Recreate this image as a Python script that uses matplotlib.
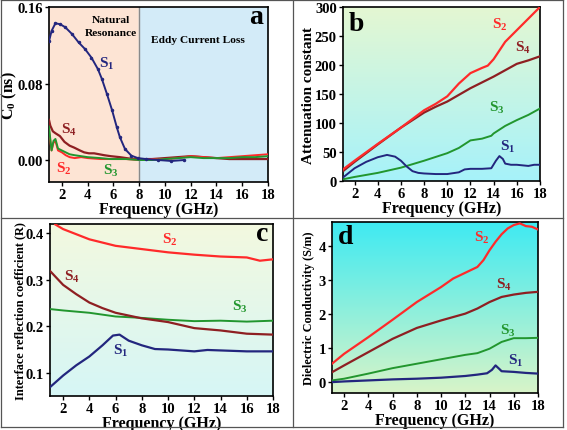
import numpy as np
import matplotlib
matplotlib.use('Agg')
import matplotlib.pyplot as plt
from matplotlib.lines import Line2D
from matplotlib.colors import LinearSegmentedColormap

plt.rcParams['font.family'] = ['Liberation Serif', 'DejaVu Serif']
plt.rcParams['font.weight'] = 'bold'
plt.rcParams['axes.labelweight'] = 'bold'
plt.rcParams['mathtext.fontset'] = 'custom'
plt.rcParams['mathtext.rm'] = 'Liberation Serif:bold'
plt.rcParams['mathtext.it'] = 'Liberation Serif:bold'
plt.rcParams['mathtext.bf'] = 'Liberation Serif:bold'

C1 = '#23267e'
C2 = '#ff2a2a'
C3 = '#22962e'
C4 = '#8e1f22'

# ---- panel a : C0 (ns)
a_f_s1 = [1.0, 1.2, 1.5, 1.86, 2.25, 2.77, 3.3, 3.8, 4.3, 4.8, 5.1, 5.5, 5.9, 6.27,
          6.5, 6.9, 7.4, 7.9, 8.5, 9.5, 10.5, 11.5]
a_s1 = [0.124, 0.135, 0.143, 0.142, 0.139, 0.132, 0.123, 0.116, 0.107, 0.095, 0.085,
        0.069, 0.052, 0.034, 0.024, 0.0115, 0.0045, 0.002, 0.001, 0.0, -0.001, 0.0]
a_f_s2 = [1.0, 1.1, 1.2, 1.35, 1.5, 1.7, 2.0, 2.3, 2.6, 3.0, 3.5, 4, 5, 6, 7, 8, 9, 10,
          11, 12, 13, 14, 15, 16, 17, 18]
a_s2 = [0.030, 0.020, 0.010, 0.018, 0.020, 0.010, 0.008, 0.005, 0.003, 0.002, 0.003,
        0.002, 0.001, 0.001, 0.001, 0.0, 0.001, 0.001, 0.002, 0.004, 0.003, 0.002,
        0.003, 0.004, 0.005, 0.006]
a_f_s3 = [1.0, 1.1, 1.2, 1.35, 1.5, 1.7, 2.0, 2.3, 2.6, 3.0, 3.5, 4, 5, 5.8, 7, 8, 9,
          10, 11, 12, 13, 14, 15, 16, 17, 18]
a_s3 = [0.035, 0.022, 0.010, 0.020, 0.022, 0.012, 0.010, 0.008, 0.006, 0.005, 0.004,
        0.003, 0.002, 0.001, 0.001, 0.0, 0.0, 0.001, 0.002, 0.003, 0.002, 0.002,
        0.002, 0.003, 0.003, 0.004]
a_f_s4 = [1.0, 1.1, 1.3, 1.5, 1.85, 2.2, 2.6, 2.95, 3.4, 3.73, 4.1, 4.5, 4.9, 5.3, 5.8,
          6.5, 7.0, 7.6, 8, 9, 10, 11, 12, 13, 14, 15, 16, 17, 18]
a_s4 = [0.042, 0.036, 0.030, 0.028, 0.025, 0.019, 0.015, 0.013, 0.010, 0.008, 0.007,
        0.007, 0.006, 0.005, 0.004, 0.003, 0.002, 0.001, 0.001, 0.001, 0.002, 0.003,
        0.004, 0.003, 0.002, 0.001, 0.001, 0.001, 0.001]

# ---- panel b : attenuation constant
b_f_s1 = [1.0, 1.5, 2, 3, 4, 4.8, 5.5, 6, 6.5, 7, 7.5, 8, 9, 10, 11, 11.5, 12, 13, 13.8,
          14.2, 14.5, 14.8, 15, 15.5, 16, 16.5, 17, 17.5, 18]
b_s1 = [6, 14, 22, 33, 41, 45, 42, 35, 25, 17, 14, 13, 12, 12, 15, 20, 21, 21, 22, 35,
        43, 38, 30, 28, 28, 27, 26, 28, 28]
b_f_s2 = [1.0, 2, 4, 6, 8, 9, 10, 11, 12, 13, 13.5, 14, 15, 16, 17, 18]
b_s2 = [20, 35, 64, 92, 122, 133, 146, 168, 186, 195, 199, 210, 240, 260, 280, 300]
b_f_s3 = [1.0, 2, 4, 6, 8, 10, 11, 12, 13, 13.8, 14, 15, 16, 17, 18]
b_s3 = [3, 7, 14, 23, 35, 48, 57, 70, 73, 78, 82, 95, 105, 114, 125]
b_f_s4 = [1.0, 2, 4, 6, 8, 9, 10, 12, 13, 14, 16, 17, 18]
b_s4 = [17, 33, 63, 92, 118, 128, 137, 160, 170, 180, 202, 208, 215]

# ---- panel c : interface reflection coefficient
c_f_s1 = [1.0, 2, 3, 4, 5, 5.8, 6.3, 7, 8, 9, 10, 12, 13, 14, 16, 18]
c_s1 = [0.069, 0.094, 0.116, 0.135, 0.159, 0.180, 0.182, 0.169, 0.159, 0.151, 0.150,
        0.146, 0.149, 0.148, 0.146, 0.146]
c_f_s2 = [1.4, 2, 4, 6, 8, 10, 12, 14, 16, 17, 18]
c_s2 = [0.419, 0.409, 0.387, 0.373, 0.366, 0.359, 0.354, 0.350, 0.348, 0.341, 0.344]
c_f_s3 = [1.0, 2, 4, 6, 8, 10, 12, 14, 16, 18]
c_s3 = [0.237, 0.234, 0.229, 0.221, 0.218, 0.214, 0.211, 0.212, 0.210, 0.212]
c_f_s4 = [1.0, 2, 3, 4, 5, 6, 8, 10, 12, 14, 16, 18]
c_s4 = [0.319, 0.289, 0.269, 0.251, 0.239, 0.229, 0.217, 0.209, 0.196, 0.191, 0.184, 0.182]

# ---- panel d : dielectric conductivity
d_f_s1 = [1.0, 2, 4, 6, 8, 10, 12, 13, 13.8, 14.2, 14.5, 14.8, 15, 16, 17, 18]
d_s1 = [0.0, 0.02, 0.05, 0.08, 0.10, 0.13, 0.18, 0.22, 0.26, 0.36, 0.49, 0.39, 0.32,
        0.30, 0.27, 0.25]
d_f_s2 = [1.0, 2, 4, 6, 8, 10, 11, 12, 13, 13.5, 14, 14.5, 15, 15.5, 16, 16.5, 17, 17.5, 18]
d_s2 = [0.54, 0.83, 1.32, 1.83, 2.35, 2.79, 3.04, 3.21, 3.38, 3.58, 3.87, 4.12, 4.34,
        4.51, 4.61, 4.66, 4.58, 4.56, 4.48]
d_f_s3 = [1.0, 2, 4, 6, 8, 10, 12, 13, 14, 15, 16, 17, 18]
d_s3 = [0.05, 0.10, 0.25, 0.41, 0.54, 0.67, 0.80, 0.85, 0.98, 1.18, 1.29, 1.29, 1.30]
d_f_s4 = [1.0, 2, 4, 6, 8, 10, 12, 13, 14, 15, 16, 17, 18]
d_s4 = [0.29, 0.49, 0.88, 1.27, 1.59, 1.81, 2.01, 2.16, 2.35, 2.50, 2.57, 2.62, 2.65]

x_ticks = [2, 4, 6, 8, 10, 12, 14, 16, 18]


def gradient_bg(ax, top, bottom):
    cmap = LinearSegmentedColormap.from_list('bg', [bottom, top])
    grad = np.linspace(0, 1, 256).reshape(-1, 1)
    ax.imshow(grad, cmap=cmap, aspect='auto', origin='lower', extent=[0, 1, 0, 1],
              transform=ax.transAxes, zorder=0)


def style(ax, ylabel, ylsize, ylx):
    ax.set_xlim(1, 18)
    ax.set_xticks(x_ticks)
    ax.set_xlabel('Frequency (GHz)', fontsize=11.5, fontweight='bold', labelpad=0)
    ax.set_ylabel(ylabel, fontsize=ylsize, fontweight='bold')
    ax.yaxis.set_label_coords(ylx, 0.5)
    ax.tick_params(direction='out', length=3, width=1, labelsize=10.5, pad=1.5)
    for lab in ax.get_xticklabels() + ax.get_yticklabels():
        lab.set_fontweight('bold')
    for sp in ax.spines.values():
        sp.set_linewidth(1.2)


def lab(ax, x, y, n, color):
    ax.text(x, y, 'S$_{%d}$' % n, color=color, fontsize=11, fontweight='bold',
            ha='center', va='center', zorder=5)


fig = plt.figure(figsize=(5.67, 4.31), dpi=100)

# panel a
ax = fig.add_axes([0.0864, 0.5754, 0.3862, 0.4060])
ax.axvspan(1, 8, color='#fde4d4', zorder=0)
ax.axvspan(8, 18, color='#d3ebf8', zorder=0)
ax.axvline(8, color='#8a8a8a', lw=1, zorder=1)
ax.plot(a_f_s4, a_s4, color=C4, lw=1.6, zorder=3)
ax.plot(a_f_s2, a_s2, color=C2, lw=1.4, zorder=3)
ax.plot(a_f_s3, a_s3, color=C3, lw=1.4, zorder=3)
ax.plot(a_f_s1, a_s1, color=C1, lw=1.4, marker='.', ms=3, zorder=4)
ax.set_ylim(-0.023, 0.16)
ax.set_yticks([0.00, 0.08, 0.16])
ax.set_yticklabels(['0.00', '0.08', '0.16'])
style(ax, 'C$_0$ (ns)', 11.5, -0.135)
ax.text(5.8, 0.140, 'Natural\nResonance', ha='center', va='center', fontsize=8.2,
        fontweight='bold', linespacing=1.5)
ax.text(12.6, 0.1265, 'Eddy Current Loss', ha='center', va='center', fontsize=8.2,
        fontweight='bold')
ax.text(17.1, 0.150, 'a', ha='center', va='center', fontsize=20, fontweight='bold')
lab(ax, 5.5, 0.102, 1, C1)
lab(ax, 2.15, -0.008, 2, C2)
lab(ax, 5.8, -0.010, 3, C3)
lab(ax, 2.55, 0.032, 4, C4)

# panel b
ax = fig.add_axes([0.6049, 0.5777, 0.3474, 0.4037])
gradient_bg(ax, '#e4f7d2', '#a6f2fa')
ax.plot(b_f_s3, b_s3, color=C3, lw=1.4, zorder=3)
ax.plot(b_f_s1, b_s1, color=C1, lw=1.4, zorder=3)
ax.plot(b_f_s4, b_s4, color=C4, lw=1.6, zorder=3)
ax.plot(b_f_s2, b_s2, color=C2, lw=1.6, zorder=3)
ax.set_ylim(0, 300)
ax.set_yticks([0, 50, 100, 150, 200, 250, 300])
style(ax, 'Attenuation constant', 11, -0.14)
ax.text(2.15, 271, 'b', ha='center', va='center', fontsize=20, fontweight='bold')
lab(ax, 15.25, 61, 1, C1)
lab(ax, 14.5, 271, 2, C2)
lab(ax, 14.25, 127, 3, C3)
lab(ax, 16.5, 231, 4, C4)

# panel c
ax = fig.add_axes([0.0882, 0.0789, 0.3933, 0.3991])
gradient_bg(ax, '#f3f9df', '#d6f6f6')
ax.plot(c_f_s2, c_s2, color=C2, lw=1.6, zorder=3)
ax.plot(c_f_s3, c_s3, color=C3, lw=1.4, zorder=3)
ax.plot(c_f_s4, c_s4, color=C4, lw=1.6, zorder=3)
ax.plot(c_f_s1, c_s1, color=C1, lw=1.6, zorder=3)
ax.set_ylim(0.05, 0.42)
ax.set_yticks([0.1, 0.2, 0.3, 0.4])
style(ax, 'Interface reflection coefficient (R)', 8.8, -0.105)
ax.text(17.2, 0.400, 'c', ha='center', va='center', fontsize=20, fontweight='bold')
lab(ax, 6.4, 0.148, 1, C1)
lab(ax, 10.1, 0.387, 2, C2)
lab(ax, 15.5, 0.244, 3, C3)
lab(ax, 2.7, 0.309, 4, C4)

# panel d
ax = fig.add_axes([0.5855, 0.0858, 0.3633, 0.3968])
gradient_bg(ax, '#3eeaf2', '#d8f4c8')
ax.plot(d_f_s2, d_s2, color=C2, lw=1.6, zorder=3)
ax.plot(d_f_s4, d_s4, color=C4, lw=1.6, zorder=3)
ax.plot(d_f_s3, d_s3, color=C3, lw=1.4, zorder=3)
ax.plot(d_f_s1, d_s1, color=C1, lw=1.6, zorder=3)
ax.set_ylim(-0.32, 4.7)
ax.set_yticks([0, 1, 2, 3, 4])
style(ax, 'Dielectric Conductivity (S/m)', 8.8, -0.08)
ax.text(2.1, 4.26, 'd', ha='center', va='center', fontsize=20, fontweight='bold')
lab(ax, 16.2, 0.64, 1, C1)
lab(ax, 13.4, 4.26, 2, C2)
lab(ax, 15.5, 1.52, 3, C3)
lab(ax, 15.2, 2.89, 4, C4)

# panel frame lines
W, H = 567.0, 431.0
def fline(x0, y0, x1, y1):
    fig.add_artist(Line2D([x0 / W, x1 / W], [1 - y0 / H, 1 - y1 / H],
                          color='#555555', lw=0.9))

fline(1, 1, 563, 1)
fline(1, 428, 563, 428)
fline(1, 1, 1, 428)
fline(563, 1, 563, 428)
fline(293, 1, 293, 428)
fline(1, 219, 563, 219)

fig.savefig('out.png', dpi=100)
